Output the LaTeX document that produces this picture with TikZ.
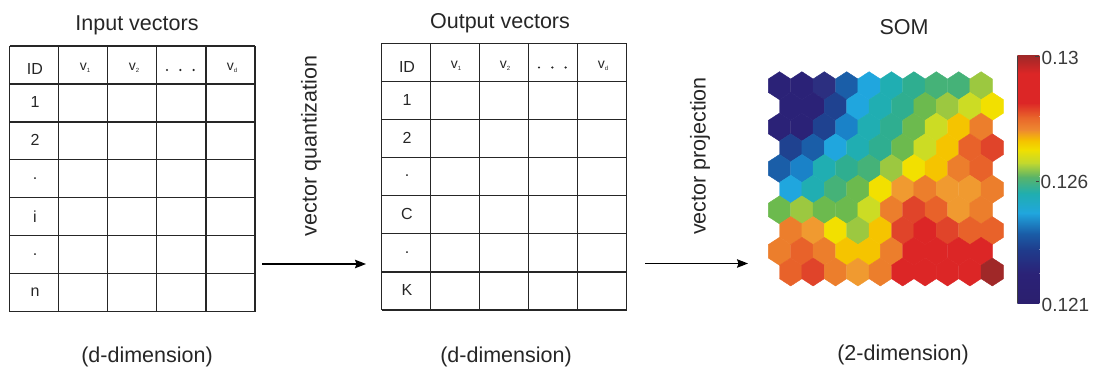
\documentclass[tikz,border=0pt]{standalone}
\usepackage{fontspec}
\setmainfont{Liberation Sans}
\usetikzlibrary{arrows.meta}
\definecolor{c1}{HTML}{2B2277}
\definecolor{c2}{HTML}{2C2F80}
\definecolor{c3}{HTML}{1F4290}
\definecolor{c4}{HTML}{1A5EA8}
\definecolor{c5}{HTML}{1A82C8}
\definecolor{c6}{HTML}{20A6DE}
\definecolor{c7}{HTML}{20AEB2}
\definecolor{c8}{HTML}{2FAE90}
\definecolor{c9}{HTML}{45B278}
\definecolor{c10}{HTML}{6CBA4E}
\definecolor{c11}{HTML}{9CC840}
\definecolor{c12}{HTML}{CCDC24}
\definecolor{c13}{HTML}{F2E000}
\definecolor{c14}{HTML}{F5C400}
\definecolor{c15}{HTML}{F09A30}
\definecolor{c16}{HTML}{EC7E2C}
\definecolor{c17}{HTML}{E8622A}
\definecolor{c18}{HTML}{E0442A}
\definecolor{c19}{HTML}{DC2626}
\definecolor{c20}{HTML}{A02828}
\definecolor{cb0}{HTML}{2B1F6E}
\definecolor{cb1}{HTML}{2B2277}
\definecolor{cb2}{HTML}{1F3C8C}
\definecolor{cb3}{HTML}{1A5EA8}
\definecolor{cb4}{HTML}{20A6DE}
\definecolor{cb5}{HTML}{20AEAE}
\definecolor{cb6}{HTML}{5CB466}
\definecolor{cb7}{HTML}{C0D830}
\definecolor{cb8}{HTML}{F0E000}
\definecolor{cb9}{HTML}{F5C000}
\definecolor{cb10}{HTML}{EE8A30}
\definecolor{cb11}{HTML}{E8622A}
\definecolor{cb12}{HTML}{DC2626}
\definecolor{cb13}{HTML}{DC2626}
\definecolor{cb14}{HTML}{A02828}
\definecolor{txtgray}{HTML}{3A3A3A}
\newcommand{\vsb}[1]{v\raisebox{-1.5pt}{\fontsize{6}{6}\selectfont #1}}
\begin{document}
\begin{tikzpicture}[x=1pt,y=-1pt,
  tl/.style={line width=1.2pt,draw=black!85},
  big/.style={font=\fontsize{21.5}{25}\selectfont,inner sep=0pt,text=black!85},
  cell/.style={font=\fontsize{16}{18}\selectfont,inner sep=0pt,text=black!85},
  hdr/.style={font=\fontsize{14}{16}\selectfont,inner sep=0pt,text=black!85},
  cbl/.style={font=\fontsize{19}{21}\selectfont,inner sep=0pt,text=txtgray,anchor=west},
  arr/.style={line width=1.3pt,-{Stealth[length=11pt,width=8.5pt,inset=1.5pt]}}]
\useasboundingbox (0,0) rectangle (1094,372);

% ---------- left table ----------
\foreach \i in {0,...,5} \draw[tl] (9.5+\i*49.1,46) -- (9.5+\i*49.1,311.7);
\foreach \j in {0,...,7} \draw[tl] (9.5,46+\j*37.95) -- (255,46+\j*37.95);
\node[big,anchor=base] (tin) at (137,30) {Input vectors};
\node[cell] (lid) at (35,69) {ID};
\node[hdr] (lv1) at (85,68) {\vsb{1}};
\node[hdr] (lv2) at (134,68) {\vsb{2}};
\node[hdr] (lvd) at (232,68) {\vsb{d}};
\foreach \k in {0,1,2} \fill[black!85] (167+\k*13.3,70) circle (1.2pt);
\foreach \t [count=\r] in {1,2,.,i,.,n}
  \node[cell] (lr\r) at (35,46+\r*37.95+18.5) {\t};

% ---------- middle table ----------
\foreach \i in {0,...,5} \draw[tl] (381.7+\i*49,43.3) -- (381.7+\i*49,310);
\foreach \j in {0,...,7} \draw[tl] (381.7,43.3+\j*38.1) -- (626.7,43.3+\j*38.1);
\node[big,anchor=base] (tout) at (500,28) {Output vectors};
\node[cell] (mid) at (407,67) {ID};
\node[hdr] (mv1) at (456,66) {\vsb{1}};
\node[hdr] (mv2) at (505,66) {\vsb{2}};
\node[hdr] (mvd) at (603,66) {\vsb{d}};
\foreach \k in {0,1,2} \fill[black!85] (539+\k*13.3,67.5) circle (1.2pt);
\foreach \t [count=\r] in {1,2,.,C,.,K}
  \node[cell] (mr\r) at (407,43.3+\r*38.1+18.5) {\t};

% ---------- arrows and rotated labels ----------
\coordinate (q1) at (262,264);
\coordinate (q2) at (366,264);
\coordinate (p1) at (645,263.5);
\coordinate (p2) at (748,263.5);
\draw[arr] (q1) -- (q2);
\draw[arr] (p1) -- (p2);
\node[big,rotate=90] (vq) at (311,146) {vector quantization};
\node[big,rotate=90] (vp) at (700,156) {vector projection};

% ---------- SOM ----------
\node[big,anchor=base] (som) at (904,34) {SOM};
\foreach \rowlist [count=\r] in {
 {c1,c1,c2,c4,c6,c7,c8,c9,c9,c11},
 {c1,c1,c3,c6,c7,c8,c10,c11,c12,c13},
 {c1,c1,c3,c5,c7,c8,c10,c12,c14,c16},
 {c3,c4,c6,c7,c8,c10,c12,c14,c17,c18},
 {c4,c5,c7,c8,c9,c11,c13,c14,c16,c17},
 {c6,c7,c9,c10,c13,c15,c16,c15,c15,c16},
 {c10,c11,c10,c10,c12,c16,c18,c17,c15,c16},
 {c16,c15,c13,c11,c14,c18,c19,c18,c17,c17},
 {c16,c17,c16,c14,c14,c16,c19,c19,c19,c19},
 {c17,c18,c16,c15,c16,c19,c19,c19,c19,c20}}{
  \foreach \cc [count=\c] in \rowlist {
    \pgfmathsetmacro\hx{779.5+(\c-1)*22.4+mod(\r+1,2)*11.2}
    \pgfmathsetmacro\hy{85.7+(\r-1)*20.7}
    \filldraw[fill=\cc,draw=\cc,line width=0.4pt]
      (\hx,\hy-14) -- (\hx+11.2,\hy-6.7) -- (\hx+11.2,\hy+6.7) --
      (\hx,\hy+14) -- (\hx-11.2,\hy+6.7) -- (\hx-11.2,\hy-6.7) -- cycle;
  }
}

% ---------- colour bar ----------
\foreach \ta/\ca/\tb/\cbb in {0/cb0/0.12/cb1, 0.12/cb1/0.216/cb2, 0.216/cb2/0.283/cb3,
   0.283/cb3/0.364/cb4, 0.364/cb4/0.445/cb5, 0.445/cb5/0.512/cb6, 0.512/cb6/0.566/cb7,
   0.566/cb7/0.62/cb8, 0.62/cb8/0.66/cb9, 0.66/cb9/0.70/cb10, 0.70/cb10/0.755/cb11,
   0.755/cb11/0.81/cb12, 0.81/cb12/0.93/cb13, 0.93/cb13/1.0/cb14}
  \shade[bottom color=\ca,top color=\cbb] (1017.3,303-\ta*247+0.3) rectangle (1039.3,303-\tb*247-0.3);
\draw[line width=0.9pt,black!75] (1017.3,56) -- (1017.3,303);
\draw[line width=0.9pt,black!75] (1035,56) -- (1039.3,56);
\draw[line width=0.9pt,black!75] (1036,181) -- (1039.3,181);
\node[cbl] (l13) at (1041.5,57.5) {0.13};
\node[cbl] (l126) at (1040.5,182) {0.126};
\node[cbl] (l121) at (1041.5,305) {0.121};

% ---------- bottom labels ----------
\node[big,anchor=base] (d1) at (147,362) {(d-dimension)};
\node[big,anchor=base] (d2) at (506,362) {(d-dimension)};
\node[big,anchor=base] (d3) at (903,360) {(2-dimension)};
\end{tikzpicture}
\end{document}
